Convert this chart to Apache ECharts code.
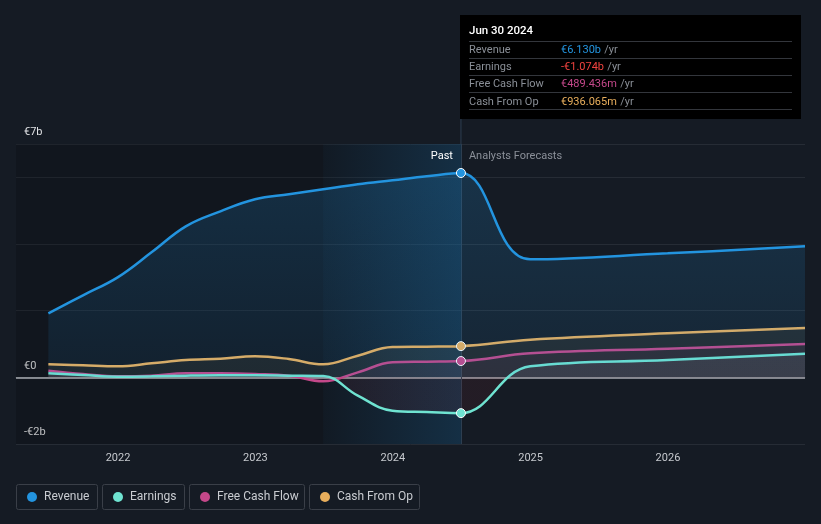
<!DOCTYPE html>
<html>
<head>
<meta charset="utf-8">
<script src="https://cdn.jsdelivr.net/npm/echarts@6/dist/echarts.min.js"></script>
<style>
html,body{margin:0;padding:0;background:#151b24;}
#main{width:821px;height:524px;}
</style>
</head>
<body>
<div id="main"></div>
<script>
const dates = ['2021-06-30','2021-09-30','2021-12-31','2022-03-31','2022-06-30','2022-09-30','2022-12-31','2023-03-31','2023-06-30','2023-09-30','2023-12-31','2024-03-31','2024-06-30','2024-12-31','2025-12-31','2026-12-31'];
const revenue  = [1.92, 2.46, 3.00, 3.75, 4.53, 4.98, 5.34, 5.49, 5.64, 5.79, 5.91, 6.03, 6.130, 3.54, 3.72, 3.93];
const earnings = [0.12, 0.07, 0.02, 0.03, 0.05, 0.06, 0.06, 0.05, 0.04, -0.55, -1.00, -1.04, -1.074, 0.33, 0.52, 0.71];
const fcf      = [0.20, 0.10, 0.03, 0.05, 0.12, 0.12, 0.10, 0.05, -0.12, 0.15, 0.45, 0.47, 0.489, 0.72, 0.86, 1.00];
const cfo      = [0.39, 0.36, 0.33, 0.42, 0.52, 0.56, 0.63, 0.55, 0.39, 0.65, 0.91, 0.92, 0.936, 1.13, 1.32, 1.48];
const yTickLabels = {'7':'€7b','0':'€0','-2':'-€2b'};
const seriesNames = ['Revenue','Earnings','Free Cash Flow','Cash From Op'];
const seriesColors = ['#2394df','#6fe3d1','#c4488a','#e8ae5c'];
const pastEnd = '2024-06-30';
const highlightStart = '2023-06-30';
const tipTitle = 'Jun 30 2024';
const tipValues = ['€6.130b','-€1.074b','€489.436m','€936.065m'];
const tipValueColors = ['#2394df','#f0433f','#c4488a','#e8ae5c'];

const FONT = 'Roboto, "Noto Sans", sans-serif';
const chart = echarts.init(document.getElementById('main'), null, {renderer:'canvas'});

function mkData(vals){
  return vals.map((v,i)=>{
    const item = {value:[dates[i], v]};
    if (dates[i] === pastEnd) { item.symbol='circle'; item.symbolSize=9; }
    return item;
  });
}
const allVals = [revenue, earnings, fcf, cfo];
const areaColors = [
  new echarts.graphic.LinearGradient(0,0,0,1,[{offset:0,color:'rgba(35,148,223,0.28)'},{offset:1,color:'rgba(35,148,223,0.12)'}]),
  new echarts.graphic.LinearGradient(0,144,0,444,[{offset:0,color:'rgba(160,170,180,0.16)'},{offset:0.776,color:'rgba(160,170,180,0.16)'},{offset:0.777,color:'rgba(150,40,50,0.16)'},{offset:1,color:'rgba(150,40,50,0.16)'}], true),
  'rgba(196,72,138,0.10)',
  'rgba(232,174,92,0.10)'
];

const series = seriesNames.map((name,k)=>({
  name, type:'line', data: mkData(allVals[k]),
  smooth:0.4,
  symbol:'none', showSymbol:true,
  lineStyle:{color:seriesColors[k], width:2.5},
  itemStyle:{color:seriesColors[k], borderColor:'#ffffff', borderWidth:1},
  areaStyle:{color:areaColors[k], origin:0},
  z: 10 - k,
  silent:true
}));
series[0].markArea = {
  silent:true,
  data:[
    [{xAxis:'2021-01-01', itemStyle:{color:'rgba(0,0,0,0.16)'}},{xAxis:pastEnd}],
    [{xAxis:highlightStart, itemStyle:{color:new echarts.graphic.LinearGradient(0,0,1,0,[{offset:0,color:'rgba(35,148,223,0.03)'},{offset:1,color:'rgba(35,148,223,0.2)'}])}},{xAxis:pastEnd}]
  ]
};
series[0].markLine = {
  silent:true, symbol:'none', animation:false,
  label:{show:false},
  data:[
    {yAxis:0, lineStyle:{color:'#a9adb3', width:1.5, type:'solid'}},
    {xAxis:pastEnd, lineStyle:{color:'#2d3e50', width:1, type:'solid'}}
  ]
};

const legends = [
  {left:27, name:'Revenue'},
  {left:113, name:'Earnings'},
  {left:200, name:'Free Cash Flow'},
  {left:320, name:'Cash From Op'}
].map(l=>({
  data:[l.name], left:l.left, top:491, padding:0, icon:'circle', itemWidth:10, itemHeight:10,
  itemGap:0, selectedMode:false,
  itemStyle:{borderWidth:0},
  textStyle:{color:'#c9ccd1', fontSize:12, fontFamily:FONT, padding:[0,0,0,2]}
}));

const legendBoxes = [[16,81],[102,82],[189,115],[309,110]].map(b=>({
  type:'rect', shape:{x:b[0]+0.5,y:484.5,width:b[1],height:25,r:2},
  style:{fill:'none', stroke:'#3a3f48', lineWidth:1}, z:-1
}));

const tipX=460, tipY=15, tipW=341, tipH=104;
const tipGraphics = [
  {type:'rect', shape:{x:tipX,y:tipY,width:tipW,height:tipH}, style:{fill:'#000000'}, z:50},
  {type:'text', x:469, y:31, style:{text:tipTitle, fill:'#ffffff', font:'500 11.5px '+FONT, verticalAlign:'middle'}, z:51}
];
[41.5,58.5,75.5,92.5,109.5].forEach(y=>tipGraphics.push({type:'line', shape:{x1:469,y1:y,x2:792,y2:y}, style:{stroke:'#33363c', lineWidth:1}, z:51}));
seriesNames.forEach((n,i)=>{
  const y = 50 + i*17.3;
  tipGraphics.push({type:'text', x:469, y:y, style:{text:n, fill:'#8a8f97', font:'11px '+FONT, verticalAlign:'middle'}, z:51});
  tipGraphics.push({type:'text', x:561, y:y, style:{
    text:'{v|'+tipValues[i]+'} {u|/yr}', verticalAlign:'middle',
    rich:{v:{fill:tipValueColors[i], font:'11px '+FONT}, u:{fill:'#8a8f97', font:'11px '+FONT}}
  }, z:51});
});

chart.setOption({
  animation:false,
  backgroundColor:'#151b24',
  grid:{left:16, right:16, top:144, bottom:80, containLabel:false},
  legend: legends,
  xAxis:{
    type:'time', min:'2021-04-05', max:'2026-12-31',
    minInterval: 365*24*3600*1000, maxInterval: 366*24*3600*1000,
    axisLine:{show:true, lineStyle:{color:'#30353d'}},
    axisTick:{show:false},
    splitLine:{show:false},
    axisLabel:{color:'#c6c9ce', fontSize:11, fontFamily:FONT, margin:9, formatter:'{yyyy}', hideOverlap:true}
  },
  yAxis:{
    type:'value', min:-2, max:7, interval:2,
    axisLine:{show:false}, axisTick:{show:false},
    splitLine:{lineStyle:{color:'#262c35', width:1}},
    axisLabel:{inside:true, margin:8, color:'#e0e2e5', fontSize:11, fontFamily:FONT, verticalAlign:'bottom', padding:[0,0,6,0],
      formatter:(v)=> yTickLabels[String(v)] || ''}
  },
  series,
  graphic: legendBoxes.concat(tipGraphics)
});

const px = chart.convertToPixel({xAxisIndex:0}, pastEnd);
chart.setOption({graphic: legendBoxes.concat(tipGraphics).concat([
  {type:'line', shape:{x1:px, y1:tipY+tipH, x2:px, y2:144}, style:{stroke:'#2d3e50', lineWidth:1}, z:5},
  {type:'text', x:px-8, y:156, style:{text:'Past', fill:'#ffffff', font:'11px '+FONT, align:'right', verticalAlign:'middle'}, z:20},
  {type:'text', x:px+8, y:156, style:{text:'Analysts Forecasts', fill:'#8b9099', font:'11px '+FONT, align:'left', verticalAlign:'middle'}, z:20}
])}, {replaceMerge:['graphic']});
</script>
</body>
</html>
